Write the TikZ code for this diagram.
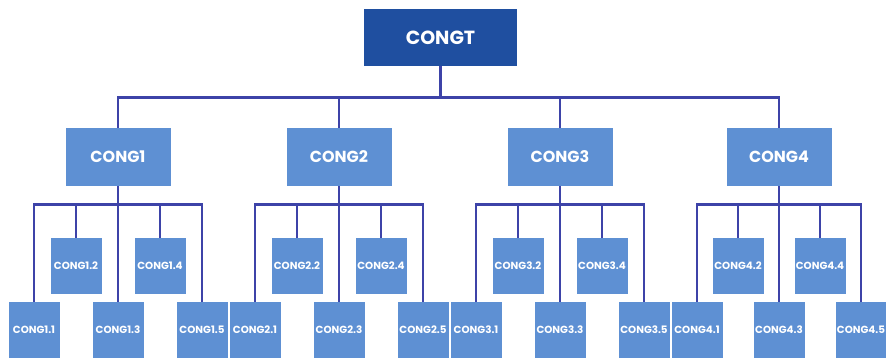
\documentclass[tikz,border=0pt]{standalone}
\usepackage{fontspec}
\setmainfont{Poppins}
\definecolor{topblue}{HTML}{1F4FA0}
\definecolor{boxblue}{HTML}{5E90D3}
\definecolor{linec}{HTML}{3D43A8}
\begin{document}
\begin{tikzpicture}[x=1pt,y=-1pt,
  base/.style={fill=boxblue,text=white,inner sep=0pt,font=\bfseries},
  topbox/.style={base,fill=topblue,minimum width=153pt,minimum height=57pt,font=\bfseries\fontsize{19}{20}\selectfont},
  midbox/.style={base,minimum width=105pt,minimum height=58pt,font=\bfseries\fontsize{16}{18}\selectfont},
  leaf/.style={base,minimum width=51pt,minimum height=56pt,font=\bfseries\fontsize{10.3}{12}\selectfont},
  conn/.style={draw=linec,line width=2.8pt}
]
\useasboundingbox (0,0) rectangle (886,362);
\fill[white] (0,0) rectangle (886,362);
\node[topbox] (T) at (440.5,37.5) {CONGT};
\foreach \g/\cx/\s in {1/118/42,2/339/42,3/560/42,4/779/41}{
  \node[midbox] (G\g) at (\cx,157) {CONG\g};
  \node[leaf] (C\g1) at (\cx-2*\s,330) {CONG\g.1};
  \node[leaf] (C\g2) at (\cx-\s,266) {CONG\g.2};
  \node[leaf] (C\g3) at (\cx,330) {CONG\g.3};
  \node[leaf] (C\g4) at (\cx+\s,266) {CONG\g.4};
  \node[leaf] (C\g5) at (\cx+2*\s,330) {CONG\g.5};
}
\foreach \g in {1,2,3,4}{
  \draw[conn] (T.south) -- ++(0,31) -| (G\g.north);
  \foreach \k in {1,2,3,4,5}{
    \draw[conn] (G\g.south) -- ++(0,18) -| (C\g\k.north);
  }
}
\end{tikzpicture}
\end{document}
